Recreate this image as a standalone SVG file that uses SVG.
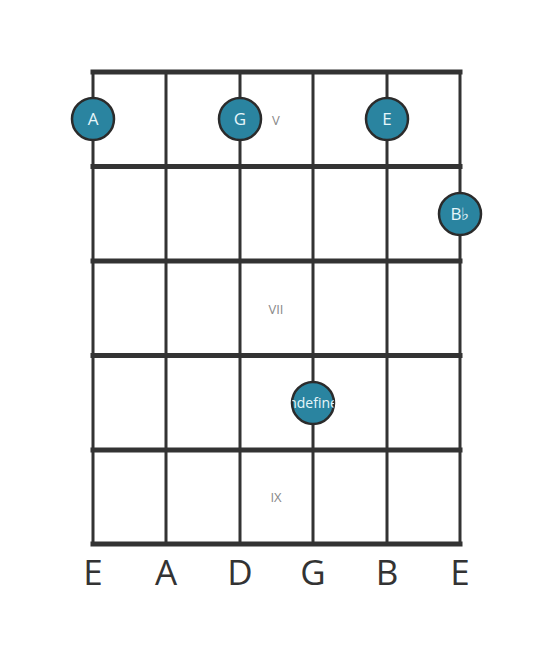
<svg xmlns="http://www.w3.org/2000/svg" width="553" height="656" viewBox="0 0 553 656">
<style>
.fret{stroke:#333;stroke-width:5;stroke-linecap:square}
.str{stroke:#333;stroke-width:3}
.dot{fill:#2a84a0;stroke:#2b2b2b;stroke-width:2.5}
.dt{font-family:"Open Sans","Noto Sans",sans-serif;font-size:17px;fill:#e6f6fa;text-anchor:middle}
.pos{font-family:"Open Sans","Noto Sans",sans-serif;font-size:13px;fill:#888;text-anchor:middle}
.sn{font-family:"Open Sans","Noto Sans",sans-serif;font-size:35px;fill:#333;text-anchor:middle}
</style>
<defs>
<clipPath id="cu"><circle cx="313" cy="403" r="21"/></clipPath>
</defs>
<rect width="553" height="656" fill="#fff"/>
<g id="connectors">
<line class="str" x1="93" y1="72" x2="93" y2="544"/>
<line class="str" x1="166" y1="72" x2="166" y2="544"/>
<line class="str" x1="240" y1="72" x2="240" y2="544"/>
<line class="str" x1="313" y1="72" x2="313" y2="544"/>
<line class="str" x1="387" y1="72" x2="387" y2="544"/>
<line class="str" x1="460" y1="72" x2="460" y2="544"/>
<line class="fret" x1="93" y1="72" x2="460" y2="72"/>
<line class="fret" x1="93" y1="166.5" x2="460" y2="166.5"/>
<line class="fret" x1="93" y1="261" x2="460" y2="261"/>
<line class="fret" x1="93" y1="355.5" x2="460" y2="355.5"/>
<line class="fret" x1="93" y1="450" x2="460" y2="450"/>
<line class="fret" x1="93" y1="544" x2="460" y2="544"/>
</g>
<g id="positions">
<text class="pos" x="276" y="125">V</text>
<text class="pos" x="276" y="314">VII</text>
<text class="pos" x="276" y="502">IX</text>
</g>
<g id="note-A"><circle class="dot" cx="93" cy="119" r="21"/><text class="dt" x="93" y="125">A</text></g>
<g id="note-G"><circle class="dot" cx="240" cy="119" r="21"/><text class="dt" x="240" y="125">G</text></g>
<g id="note-E"><circle class="dot" cx="387" cy="119" r="21"/><text class="dt" x="387" y="125">E</text></g>
<g id="note-Bb"><circle class="dot" cx="460" cy="214" r="21"/><text class="dt" x="460" y="220">B♭</text></g>
<g id="note-undefined"><circle class="dot" cx="313" cy="403" r="21"/><text class="dt" x="313" y="408" style="font-size:14px" clip-path="url(#cu)">undefined</text></g>
<g id="strings">
<text class="sn" x="93" y="585">E</text>
<text class="sn" x="166" y="585">A</text>
<text class="sn" x="240" y="585">D</text>
<text class="sn" x="313" y="585">G</text>
<text class="sn" x="387" y="585">B</text>
<text class="sn" x="460" y="585">E</text>
</g>
</svg>
